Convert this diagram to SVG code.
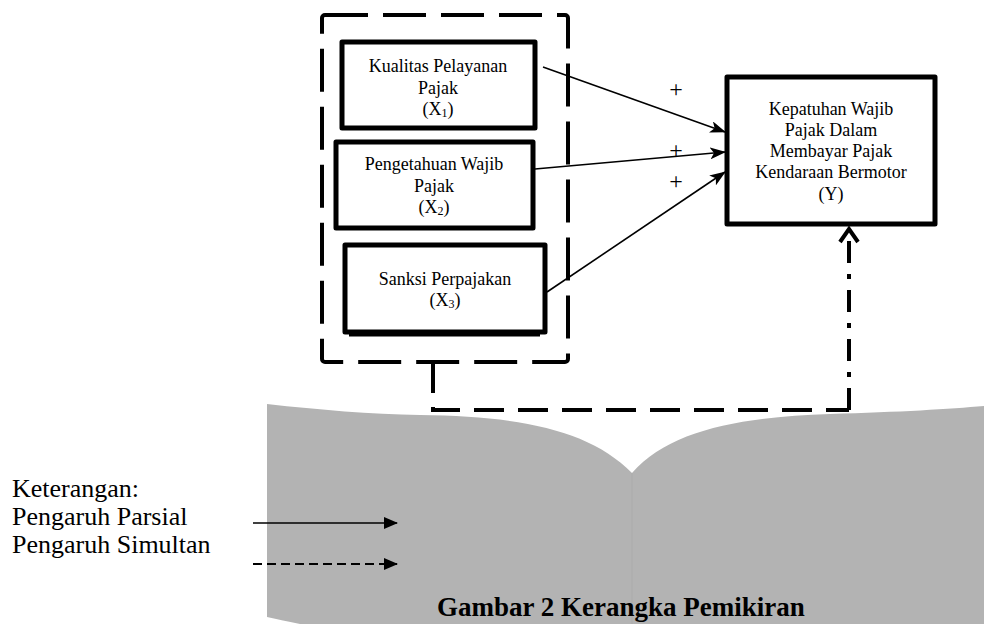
<svg xmlns="http://www.w3.org/2000/svg" width="984" height="624" viewBox="0 0 984 624">
<defs>
<style>
.t{font-family:"Liberation Serif","Times New Roman",serif;font-size:18px;fill:#000;text-anchor:middle}
.lg{font-family:"Liberation Serif","Times New Roman",serif;font-size:26px;fill:#000}
.cap{font-family:"Liberation Serif","Times New Roman",serif;font-size:27px;font-weight:bold;fill:#000}
.box{fill:#fff;stroke:#000;stroke-width:5;stroke-linejoin:round}
.arr{stroke:#000;stroke-width:1.6;fill:none;marker-end:url(#ah)}
.plus{font-family:"Liberation Serif","Times New Roman",serif;font-size:24px;fill:#000;text-anchor:middle}
</style>
<marker id="ah" viewBox="0 0 16 12" refX="15" refY="6" markerWidth="16" markerHeight="12" markerUnits="userSpaceOnUse" orient="auto">
<path d="M0,0 L16,6 L0,12 L4,6 Z" fill="#000"/>
</marker>
<marker id="lh" viewBox="0 0 14 12" refX="13" refY="6" markerWidth="14" markerHeight="12" markerUnits="userSpaceOnUse" orient="auto">
<path d="M0,0 L14,6 L0,12 Z" fill="#000"/>
</marker>
</defs>
<rect width="984" height="624" fill="#fff"/>
<g id="background">
<path d="M267,404 C320,410 370,414 420,415 C520,416 590,430 632,473 C670,430 740,417 830,414 C900,412 950,409 984,406 L984,624 L300,624 Q280,620 267,617 Z" fill="#b3b3b3"/>
<line x1="632" y1="473" x2="632" y2="624" stroke="#ababab" stroke-width="1"/>
</g>
<g id="group-box">
<rect x="322" y="15" width="246" height="347" rx="3" fill="none" stroke="#000" stroke-width="4" stroke-dasharray="43,15"/>
</g>
<g id="node-x1">
<rect class="box" x="342" y="42" width="193" height="86"/>
<text class="t" x="438" y="72">Kualitas Pelayanan</text>
<text class="t" x="438" y="94">Pajak</text>
<text class="t" x="438" y="115">(X<tspan font-size="12" dy="2">1</tspan><tspan dy="-2">)</tspan></text>
</g>
<g id="node-x2">
<rect class="box" x="336" y="142" width="197" height="86"/>
<text class="t" x="434" y="170">Pengetahuan Wajib</text>
<text class="t" x="434" y="192">Pajak</text>
<text class="t" x="434" y="213">(X<tspan font-size="12" dy="2">2</tspan><tspan dy="-2">)</tspan></text>
</g>
<g id="node-x3">
<line x1="349" y1="334" x2="540" y2="334" stroke="#000" stroke-width="5"/>
<rect class="box" x="345" y="245" width="200" height="87"/>
<text class="t" x="445" y="285">Sanksi Perpajakan</text>
<text class="t" x="445" y="306">(X<tspan font-size="12" dy="2">3</tspan><tspan dy="-2">)</tspan></text>
</g>
<g id="node-y">
<rect class="box" x="727" y="77" width="208" height="147"/>
<text class="t" x="831" y="115">Kepatuhan Wajib</text>
<text class="t" x="831" y="136">Pajak Dalam</text>
<text class="t" x="831" y="157">Membayar Pajak</text>
<text class="t" x="831" y="178">Kendaraan Bermotor</text>
<text class="t" x="831" y="200">(Y)</text>
</g>
<g id="connectors">
<line class="arr" x1="543" y1="67" x2="725" y2="132"/>
<line class="arr" x1="535" y1="169" x2="725" y2="152"/>
<line class="arr" x1="547" y1="292" x2="725" y2="172"/>
<path d="M433,363 L433,410 L849,410" fill="none" stroke="#000" stroke-width="4" stroke-dasharray="30,14"/>
<path d="M849,410 L849,232" fill="none" stroke="#000" stroke-width="4" stroke-dasharray="22,11,5,11"/>
<path d="M840,242 L849,229 L858,242" fill="none" stroke="#000" stroke-width="4" stroke-linejoin="miter"/>
<text class="plus" x="676" y="97">+</text>
<text class="plus" x="676" y="158">+</text>
<text class="plus" x="676" y="189">+</text>
</g>
<g id="legend">
<text class="lg" x="12" y="497">Keterangan:</text>
<text class="lg" x="12" y="525">Pengaruh Parsial</text>
<text class="lg" x="12" y="553">Pengaruh Simultan</text>
<line x1="253" y1="523" x2="397" y2="523" stroke="#000" stroke-width="1.6" marker-end="url(#lh)"/>
<line x1="253" y1="564" x2="397" y2="564" stroke="#000" stroke-width="2" stroke-dasharray="9,5" marker-end="url(#lh)"/>
</g>
<g id="caption">
<text class="cap" x="437" y="616">Gambar 2 Kerangka Pemikiran</text>
</g>
</svg>
